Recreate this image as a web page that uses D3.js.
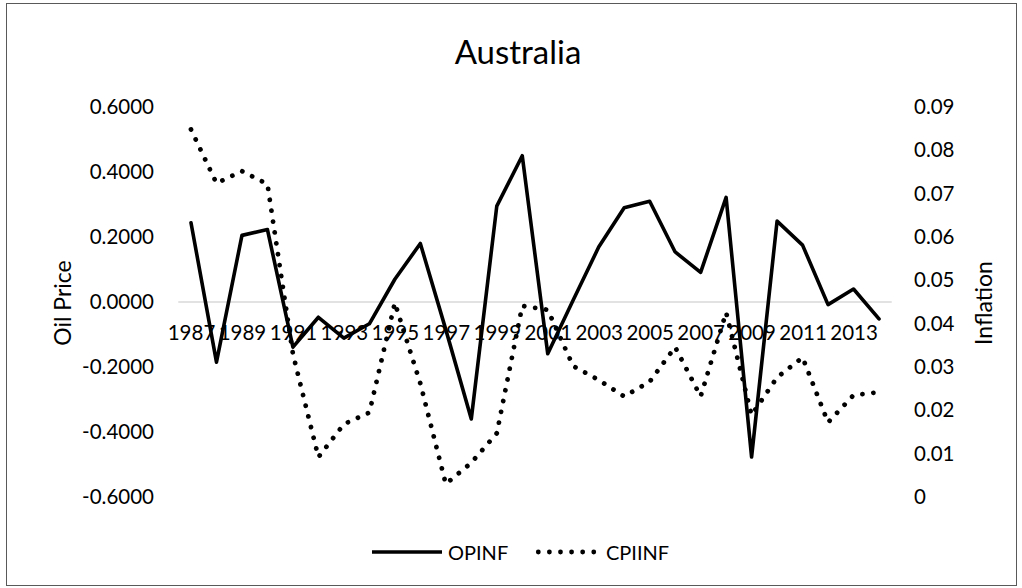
<!DOCTYPE html>
<html>
<head>
<meta charset="utf-8">
<script src="https://cdn.jsdelivr.net/npm/d3@7"></script>
<style>
  html, body { margin: 0; padding: 0; background: #fff; }
  svg { display: block; font-family: Lato, "Open Sans", sans-serif; }
</style>
</head>
<body>
<svg id="chart" width="1022" height="588"></svg>
<script>
// ---- data ----
const years = [1987,1988,1989,1990,1991,1992,1993,1994,1995,1996,1997,1998,1999,2000,
               2001,2002,2003,2004,2005,2006,2007,2008,2009,2010,2011,2012,2013,2014];
const opinf = [0.244,-0.185,0.205,0.223,-0.139,-0.047,-0.111,-0.067,0.070,0.180,-0.085,-0.360,0.295,0.450,
               -0.159,0.006,0.169,0.290,0.310,0.154,0.091,0.322,-0.477,0.249,0.175,-0.008,0.040,-0.052];
const cpiinf = [0.0848,0.0724,0.0752,0.0722,0.0330,0.0092,0.0168,0.0195,0.0448,0.0262,0.0030,0.0079,0.0147,0.0441,
                0.0432,0.0302,0.0270,0.0232,0.0266,0.0346,0.0232,0.0426,0.0189,0.0276,0.0322,0.0172,0.0235,0.0242];
const leftTicks = [-0.6,-0.4,-0.2,0,0.2,0.4,0.6];
const leftTickLabels = ["-0.6000","-0.4000","-0.2000","0.0000","0.2000","0.4000","0.6000"];
const rightTicks = [0,0.01,0.02,0.03,0.04,0.05,0.06,0.07,0.08,0.09];
const rightTickLabels = ["0","0.01","0.02","0.03","0.04","0.05","0.06","0.07","0.08","0.09"];
const xTickYears = [1987,1989,1991,1993,1995,1997,1999,2001,2003,2005,2007,2009,2011,2013];
const seriesNames = ["OPINF","CPIINF"];
const titleText = "Australia";
const leftTitle = "Oil Price";
const rightTitle = "Inflation";

// ---- layout ----
const svg = d3.select("#chart");
const plotTop = 107, plotBottom = 497;

const x = d3.scalePoint().domain(years).range([191, 879]);
const step = x.step();
const yL = d3.scaleLinear().domain([-0.6, 0.6]).range([plotBottom, plotTop]);
const yR = d3.scaleLinear().domain([0, 0.09]).range([plotBottom, plotTop]);

// outer border
svg.append("rect").attr("x", 6.5).attr("y", 3.5).attr("width", 1010).attr("height", 582)
  .attr("fill", "none").attr("stroke", "#595959").attr("stroke-width", 1);

// title
svg.append("text").attr("x", 518).attr("y", 64).attr("text-anchor", "middle")
  .style("font-size", "33px").attr("fill", "#000").text(titleText);

// zero axis line
svg.append("line")
  .attr("x1", x(years[0]) - step / 2).attr("x2", x(years[years.length - 1]) + step / 2)
  .attr("y1", yL(0)).attr("y2", yL(0))
  .attr("stroke", "#d9d9d9").attr("stroke-width", 1.5);

// left axis
const leftAxis = d3.axisLeft(yL).tickValues(leftTicks)
  .tickFormat((d, i) => leftTickLabels[i]).tickSize(0).tickPadding(0);
const gL = svg.append("g").attr("transform", "translate(154,0)").call(leftAxis);
gL.select(".domain").remove();
gL.selectAll("text").style("font-size", "20.5px").attr("fill", "#000")
  .style("font-family", "Lato, sans-serif");

// right axis
const rightAxis = d3.axisRight(yR).tickValues(rightTicks)
  .tickFormat((d, i) => rightTickLabels[i]).tickSize(0).tickPadding(0);
const gR = svg.append("g").attr("transform", "translate(914,0)").call(rightAxis);
gR.select(".domain").remove();
gR.selectAll("text").style("font-size", "20.5px").attr("fill", "#000")
  .style("font-family", "Lato, sans-serif");

// x axis labels (placed below zero line)
const bottomAxis = d3.axisBottom(x).tickValues(xTickYears).tickSize(0).tickPadding(0);
const gX = svg.append("g").attr("transform", `translate(0,${yL(0)})`).call(bottomAxis);
gX.select(".domain").remove();
gX.selectAll("text").attr("y", 38).attr("dy", "0").style("font-size", "20.5px")
  .attr("fill", "#000").style("font-family", "Lato, sans-serif");

// axis titles
svg.append("text").attr("transform", "translate(71,303) rotate(-90)")
  .attr("text-anchor", "middle").style("font-size", "23px").attr("fill", "#000").text(leftTitle);
svg.append("text").attr("transform", "translate(992,303) rotate(-90)")
  .attr("text-anchor", "middle").style("font-size", "23px").attr("fill", "#000").text(rightTitle);

// lines
const lineL = d3.line().x((d, i) => x(years[i])).y(d => yL(d));
const lineR = d3.line().x((d, i) => x(years[i])).y(d => yR(d));

svg.append("path").datum(opinf).attr("d", lineL)
  .attr("fill", "none").attr("stroke", "#000").attr("stroke-width", 3.6)
  .attr("stroke-linejoin", "round").attr("stroke-linecap", "round");

svg.append("path").datum(cpiinf).attr("d", lineR)
  .attr("fill", "none").attr("stroke", "#000").attr("stroke-width", 4.8)
  .attr("stroke-dasharray", "0.01 11").attr("stroke-linecap", "round")
  .attr("stroke-linejoin", "round");

// legend
const lg = svg.append("g");
lg.append("line").attr("x1", 372).attr("x2", 442).attr("y1", 552).attr("y2", 552)
  .attr("stroke", "#000").attr("stroke-width", 3.6);
lg.append("text").attr("x", 448).attr("y", 560).style("font-size", "20px").attr("fill", "#000").text(seriesNames[0]);
lg.append("line").attr("x1", 538.3).attr("x2", 594).attr("y1", 552).attr("y2", 552)
  .attr("stroke", "#000").attr("stroke-width", 4.8)
  .attr("stroke-dasharray", "0.01 11.08").attr("stroke-linecap", "round");
lg.append("text").attr("x", 606).attr("y", 560).style("font-size", "20px").attr("fill", "#000").text(seriesNames[1]);
</script>
</body>
</html>
